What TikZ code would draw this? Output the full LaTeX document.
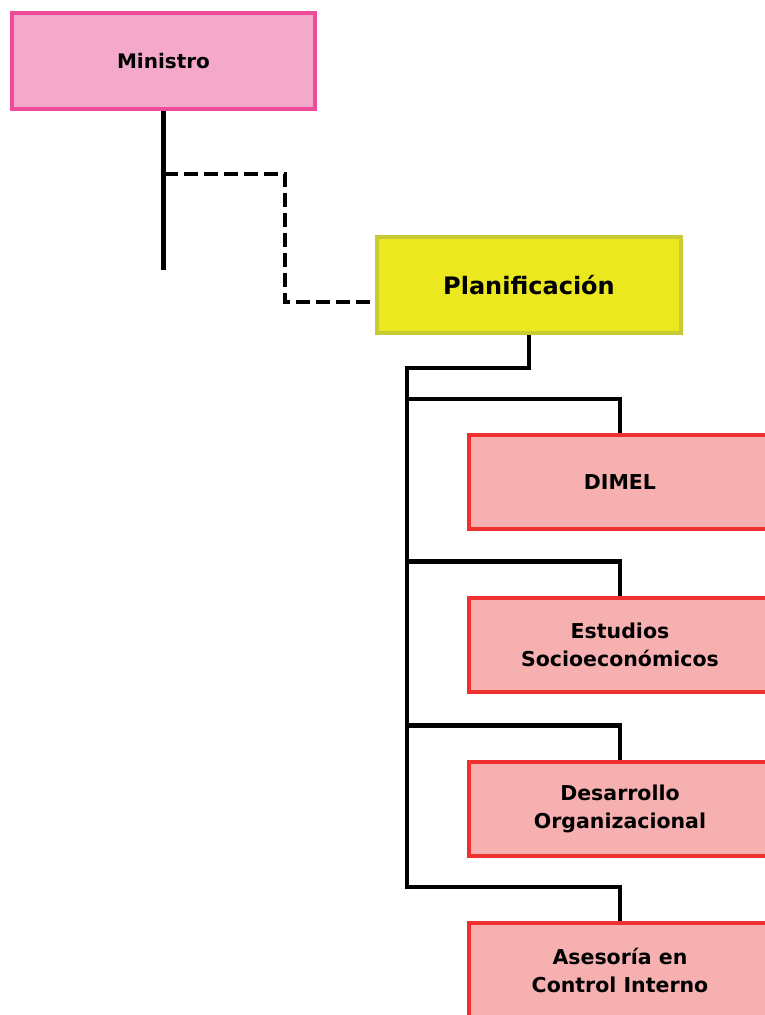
\documentclass[tikz,border=0pt]{standalone}
\usepackage{fontspec}
\setmainfont{DejaVu Sans}
\usetikzlibrary{positioning}
\usetikzlibrary{calc}

\definecolor{minfill}{HTML}{F4A9CB}
\definecolor{minline}{HTML}{EE4C9A}
\definecolor{planfill}{HTML}{EBE81F}
\definecolor{planline}{HTML}{C8CB33}
\definecolor{unitfill}{HTML}{F7B0B0}
\definecolor{unitline}{HTML}{EE3030}

\begin{document}
\begin{tikzpicture}[x=1pt,y=-1pt,line width=4.5pt,
  box/.style={rectangle,draw,line width=4pt,align=center,font=\fontsize{20.5}{28}\selectfont\bfseries},
  min node/.style={box,fill=minfill,draw=minline,minimum width=303pt,minimum height=96pt,font=\fontsize{20}{28}\selectfont\bfseries},
  plan node/.style={box,fill=planfill,draw=planline,minimum width=304pt,minimum height=96pt,font=\fontsize{24}{28}\selectfont\bfseries},
  unit node/.style={box,fill=unitfill,draw=unitline,minimum width=302pt,minimum height=94pt}]
  \useasboundingbox (0,0) rectangle (764,1015);

  \node[min node] (min) at (163.5,61) {Ministro};
  \node[plan node] (plan) at (529,285) {Planificación};
  \node[unit node] (dimel) at (620,482) {DIMEL};
  \node[unit node] (estud) at (620,644.5) {Estudios\\Socioeconómicos};
  \node[unit node] (desar) at (620,808.5) {Desarrollo\\Organizacional};
  \node[unit node] (aseso) at (620,970) {Asesoría en\\Control Interno};

  \coordinate (mend) at (163.5,270);
  \coordinate (mtap) at (163.5,174);
  \coordinate (bus) at (407,368);
  \coordinate (busend) at (407,889);

  % line from Ministro and dashed link to Planificacion
  \draw (min.south) -- (mend);
  \draw[dash pattern=on 14pt off 6pt] (mtap) -- (285,174) |- ([yshift=-17pt]plan.west);

  % branches
  \draw (plan.south) |- (bus) -- (busend);
  \foreach \n in {dimel,estud,desar,aseso}
    \draw (\n.north) -- ++(0,-34) -| (bus);
\end{tikzpicture}
\end{document}
